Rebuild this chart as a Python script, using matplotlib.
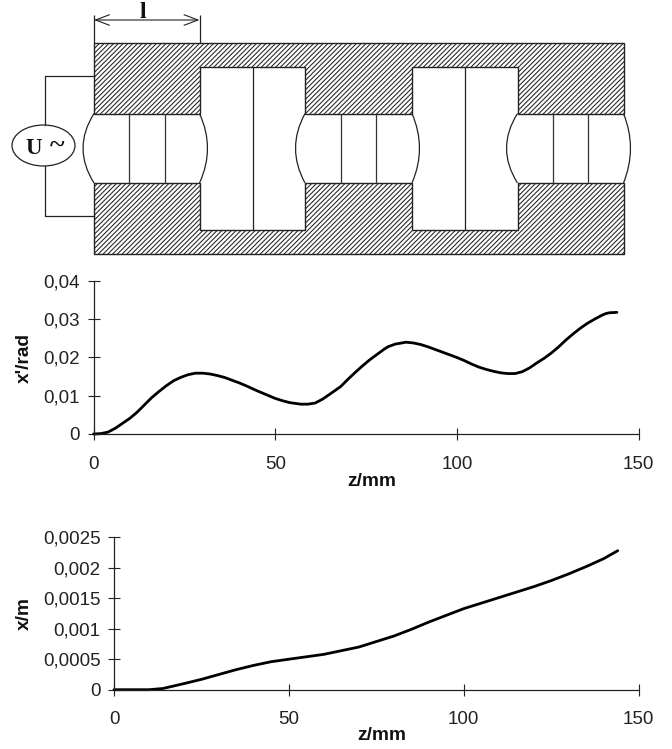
import numpy as np
import matplotlib
matplotlib.use('Agg')
import matplotlib.pyplot as plt
from matplotlib.patches import Ellipse, PathPatch, Polygon
from matplotlib.path import Path

plt.rcParams['font.family'] = ['Liberation Sans', 'DejaVu Sans']
plt.rcParams['hatch.linewidth'] = 0.75

W, H = 672, 749

# slope curve
z_slope = [0, 2, 4, 6, 8, 10, 12, 14, 16, 18, 20, 22, 24, 26, 28, 30, 32, 34, 36, 38, 40, 42, 45, 48, 50, 52, 54,
           57, 59, 61, 63, 65, 68, 70, 72, 74, 76, 78, 80, 81, 83, 86, 88, 90, 92, 94, 96, 98, 100, 102, 104, 106,
           108, 110, 112, 114, 116, 118, 120, 122, 124, 126, 128, 130, 132, 134, 136, 138, 140, 141, 142, 144]
slope = [0, 0.0001, 0.0005, 0.0015, 0.0028, 0.0041, 0.0057, 0.0076, 0.0095, 0.0111, 0.0126, 0.0139, 0.0148, 0.0155,
         0.0159, 0.0159, 0.0157, 0.0153, 0.0148, 0.0141, 0.0134, 0.0126, 0.0113, 0.0101, 0.0093, 0.0087, 0.0082,
         0.0078, 0.0078, 0.0081, 0.0091, 0.0104, 0.0124, 0.0143, 0.0161, 0.0178, 0.0194, 0.0208, 0.0222, 0.0228,
         0.0235, 0.024, 0.0238, 0.0234, 0.0228, 0.0221, 0.0214, 0.0207, 0.02, 0.0192, 0.0183, 0.0175, 0.0169,
         0.0164, 0.016, 0.0158, 0.0158, 0.0163, 0.0173, 0.0186, 0.0198, 0.0212, 0.0228, 0.0246, 0.0262, 0.0277,
         0.029, 0.0301, 0.0311, 0.0315, 0.0317, 0.0318]
slope_ticks = [0, 0.01, 0.02, 0.03, 0.04]
slope_labels = ['0', '0,01', '0,02', '0,03', '0,04']

# displacement curve
z_disp = [0, 10, 12, 14, 17, 20, 25, 30, 35, 40, 45, 50, 55, 60, 65, 70, 75, 80, 85, 90, 95, 100, 105, 110, 115,
          120, 125, 130, 135, 140, 144]
disp = [0, 0, 0.00001, 0.00002, 0.00006, 0.0001, 0.00017, 0.00025, 0.00033, 0.0004, 0.00046, 0.0005, 0.00054,
        0.00058, 0.00064, 0.0007, 0.00079, 0.00088, 0.00099, 0.00111, 0.00122, 0.00133, 0.00142, 0.00151, 0.0016,
        0.00169, 0.00179, 0.0019, 0.00202, 0.00215, 0.00228]
disp_ticks = [0, 0.0005, 0.001, 0.0015, 0.002, 0.0025]
disp_labels = ['0', '0,0005', '0,001', '0,0015', '0,002', '0,0025']

z_ticks = [0, 50, 100, 150]

# schematic geometry, in image pixels
top, bottom = 43, 253.5
gap_top, gap_bot = 113.5, 183
cav_top, cav_bot = 67, 230
edges = [94, 199.5, 305, 412, 517.5, 623.5]
arc_bulge = [-11, 8, -9.5, 7.5, -11, 7]
gap_lines = [129, 165, 341, 376, 553, 588]
cav_lines = [252.5, 464.5]


def px_axes(fig, left, right, y_top, y_bot):
    return fig.add_axes([left / W, 1 - y_bot / H, (right - left) / W, (y_bot - y_top) / H])


def draw_schematic(ax):
    e = edges
    upper = [(e[0], top), (e[5], top), (e[5], gap_top), (e[4], gap_top), (e[4], cav_top), (e[3], cav_top),
             (e[3], gap_top), (e[2], gap_top), (e[2], cav_top), (e[1], cav_top), (e[1], gap_top), (e[0], gap_top)]
    lower = [(e[0], bottom), (e[5], bottom), (e[5], gap_bot), (e[4], gap_bot), (e[4], cav_bot), (e[3], cav_bot),
             (e[3], gap_bot), (e[2], gap_bot), (e[2], cav_bot), (e[1], cav_bot), (e[1], gap_bot), (e[0], gap_bot)]
    for pts in (upper, lower):
        ax.add_patch(Polygon(pts, closed=True, facecolor='white', edgecolor='#222222', hatch='///////', lw=1.0))

    # field lines bulging out of the gaps
    for x, b in zip(edges, arc_bulge):
        verts = [(x, gap_top), (x + 2 * b, (gap_top + gap_bot) / 2), (x, gap_bot)]
        path = Path(verts, [Path.MOVETO, Path.CURVE3, Path.CURVE3])
        ax.add_patch(PathPatch(path, facecolor='none', edgecolor='#222222', lw=0.9))
    ax.vlines(gap_lines, gap_top, gap_bot, color='#333333', lw=0.9)
    ax.vlines(cav_lines, cav_top, cav_bot, color='#222222', lw=0.9)

    # voltage source and wires
    ax.plot([94, 44.5, 44.5], [76, 76, 125], color='#222222', lw=0.9)
    ax.plot([94, 44.5, 44.5], [216, 216, 166], color='#222222', lw=0.9)
    ax.add_patch(Ellipse((43.5, 145.5), 63, 41, facecolor='white', edgecolor='#222222', lw=0.9))
    serif = ['Liberation Serif', 'DejaVu Serif']
    ax.text(34, 148, 'U', family=serif, weight='bold', fontsize=16.5, ha='center', va='center', color='#111111')
    ax.text(57, 146, '~', family=serif, weight='bold', fontsize=20, ha='center', va='center', color='#111111')

    # length marker
    ax.vlines([edges[0], edges[1]], 15, top, color='#222222', lw=0.9)
    ax.annotate('', xy=(edges[0], 20), xytext=(edges[1], 20),
                arrowprops=dict(arrowstyle='<->,head_length=1.0,head_width=0.38', color='#222222', lw=0.8,
                                shrinkA=0, shrinkB=0))
    ax.text(143, 12.5, 'l', family=serif, weight='bold', fontsize=17, ha='center', va='center', color='#111111')


def draw_curve(ax, overlay, x, y, yticks, ylabels, ymax, ylabel, xlabel_pos, ylabel_pos, xpad):
    ax.plot(x, y, color='black', lw=2.0, clip_on=False, solid_capstyle='round', solid_joinstyle='round')
    ax.set_xlim(0, 150)
    ax.set_ylim(0, ymax)
    ax.set_xticks(z_ticks)
    ax.set_xticklabels([str(t) for t in z_ticks])
    ax.set_yticks(yticks)
    ax.set_yticklabels(ylabels)
    ax.patch.set_alpha(0)
    ax.spines['top'].set_visible(False)
    ax.spines['right'].set_visible(False)
    for s in ('left', 'bottom'):
        ax.spines[s].set_color('#222222')
        ax.spines[s].set_linewidth(0.9)
    ax.tick_params(axis='x', direction='inout', length=9, width=0.8, color='#222222', labelsize=13.5, pad=xpad,
                   labelcolor='#222222')
    ax.tick_params(axis='y', direction='inout', length=8.5, width=0.8, color='#222222', labelsize=13.5, pad=5.5,
                   labelcolor='#222222')
    ax.set_xlabel('z/mm', fontsize=13.8, weight='bold', va='center', ha='center', color='#111111')
    ax.set_ylabel(ylabel, fontsize=13.8, weight='bold', va='center', ha='center', color='#111111')
    ax.xaxis.set_label_coords(*xlabel_pos, transform=overlay.transData)
    ax.yaxis.set_label_coords(*ylabel_pos, transform=overlay.transData)


fig = plt.figure(figsize=(W / 100, H / 100), dpi=100)

overlay = fig.add_axes([0, 0, 1, 1])
overlay.set_xlim(0, W)
overlay.set_ylim(H, 0)
overlay.axis('off')
draw_schematic(overlay)

ax1 = px_axes(fig, 93.5, 638.7, 281, 434)
draw_curve(ax1, overlay, z_slope, slope, slope_ticks, slope_labels, 0.04, "x'/rad", (372, 481), (24, 358), 11)

ax2 = px_axes(fig, 114, 638.7, 537.3, 689.7)
draw_curve(ax2, overlay, z_disp, disp, disp_ticks, disp_labels, 0.0025, 'x/m', (382, 736), (24, 613), 11)

fig.savefig('out.png', dpi=100)
plt.close(fig)
